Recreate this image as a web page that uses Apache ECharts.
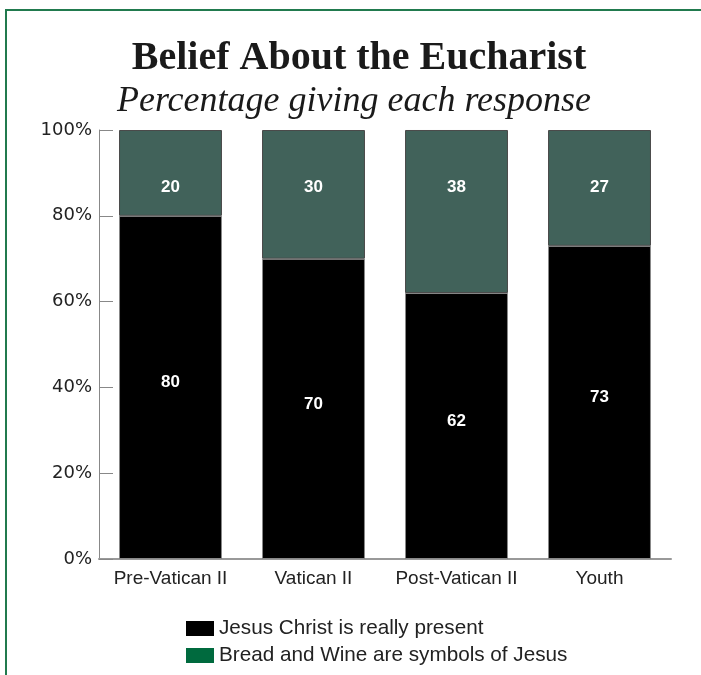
<!DOCTYPE html>
<html>
<head>
<meta charset="utf-8">
<script src="https://cdn.jsdelivr.net/npm/echarts@6/dist/echarts.min.js"></script>
<style>
  html, body { margin: 0; padding: 0; background: #fff; }
  #chart { width: 701px; height: 675px; }
</style>
</head>
<body>
<div id="chart"></div>
<script>
// Survey groups and responses (percent)
const categories = ['Pre-Vatican II', 'Vatican II', 'Post-Vatican II', 'Youth'];
const reallyPresent = [80, 70, 62, 73];
const symbolsOfJesus = [20, 30, 38, 27];
const yTicks = [0, 20, 40, 60, 80, 100];
const seriesNames = ['Jesus Christ is really present', 'Bread and Wine are symbols of Jesus'];

const chart = echarts.init(document.getElementById('chart'), null, { renderer: 'canvas' });

const labelStyle = {
  show: true,
  color: '#ffffff',
  fontFamily: 'Liberation Sans, Arial, sans-serif',
  fontWeight: 'bold',
  fontSize: 17
};

const legendText = {
  fontFamily: 'Liberation Sans, Arial, sans-serif',
  fontSize: 20.7,
  color: '#222',
  padding: [3, 0, 0, 0]
};

// one legend block per series so the two entries stack exactly
function legendEntry(name, color, top) {
  return {
    left: 186,
    top: top,
    padding: 0,
    itemWidth: 28,
    itemHeight: 15,
    itemGap: 0,
    icon: 'rect',
    selectedMode: false,
    textStyle: legendText,
    data: [{ name: name, itemStyle: { color: color, borderWidth: 0 } }]
  };
}

chart.setOption({
  animation: false,
  backgroundColor: '#ffffff',
  graphic: [
    {
      type: 'polyline',
      shape: { points: [[6, 675], [6, 10], [701, 10]] },
      style: { stroke: '#217a4e', lineWidth: 2, fill: null },
      silent: true
    },
    {
      type: 'text',
      x: 359,
      y: 59,
      silent: true,
      style: {
        text: 'Belief About the Eucharist',
        align: 'center',
        verticalAlign: 'middle',
        font: 'bold 40px "Liberation Serif", "Times New Roman", serif',
        fill: '#1a1a1a'
      }
    },
    {
      type: 'text',
      x: 354,
      y: 102,
      silent: true,
      style: {
        text: 'Percentage giving each response',
        align: 'center',
        verticalAlign: 'middle',
        font: 'italic 36px "Liberation Serif", "Times New Roman", serif',
        fill: '#1a1a1a'
      }
    }
  ],
  legend: [
    legendEntry(seriesNames[0], '#000000', 618),
    legendEntry(seriesNames[1], '#006a3e', 645)
  ],
  grid: {
    left: 99,
    top: 130,
    width: 572,
    height: 429
  },
  xAxis: {
    type: 'category',
    data: categories,
    axisLine: { lineStyle: { color: '#999', width: 2 } },
    axisTick: { show: false },
    axisLabel: {
      interval: 0,
      margin: 10,
      fontFamily: 'Liberation Sans, Arial, sans-serif',
      fontSize: 19,
      color: '#222'
    }
  },
  yAxis: {
    type: 'value',
    min: 0,
    max: 100,
    interval: 20,
    axisLine: { show: true, lineStyle: { color: '#888', width: 1 } },
    axisTick: { show: true, inside: true, length: 14, lineStyle: { color: '#888' } },
    splitLine: { show: false },
    axisLabel: {
      margin: 7,
      fontFamily: 'DejaVu Sans, sans-serif',
      fontSize: 18,
      color: '#222',
      formatter: function (v) { return yTicks.indexOf(v) >= 0 ? v + '%' : ''; }
    }
  },
  series: [
    {
      name: seriesNames[0],
      type: 'bar',
      stack: 'belief',
      barWidth: '72%',
      data: reallyPresent,
      itemStyle: { color: '#000000', borderColor: '#888', borderWidth: 1 },
      label: Object.assign({}, labelStyle, { position: 'inside', offset: [0, -5] })
    },
    {
      name: seriesNames[1],
      type: 'bar',
      stack: 'belief',
      barWidth: '72%',
      data: symbolsOfJesus,
      itemStyle: { color: '#41625a', borderColor: '#4a4a4a', borderWidth: 1 },
      label: Object.assign({}, labelStyle, { position: 'insideTop', distance: 49 })
    }
  ]
});
</script>
</body>
</html>
